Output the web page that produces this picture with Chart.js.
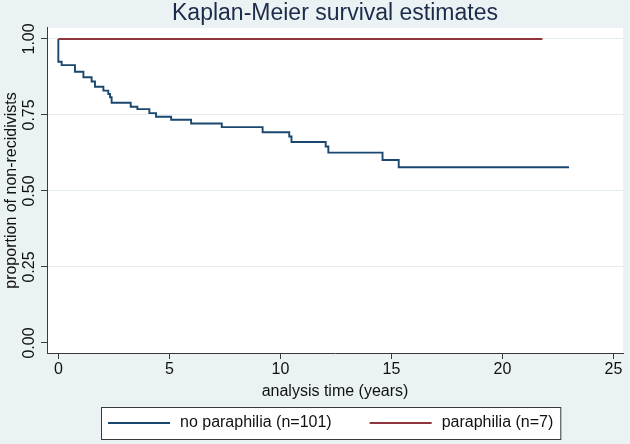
<!DOCTYPE html>
<html>
<head>
<meta charset="utf-8">
<script src="https://cdn.jsdelivr.net/npm/chart.js@4.4.1/dist/chart.umd.min.js"></script>
<style>
  html, body { margin: 0; padding: 0; background: #eaf2f3; }
  #wrap { width: 630px; height: 444px; }
</style>
</head>
<body>
<div id="wrap"><canvas id="km" width="630" height="444"></canvas></div>
<script>
/* Kaplan-Meier plot, values */

// no paraphilia (n=101): time of each step (years) and survival after it
const noParaTimes = [0, 0, 0.15, 0.75, 1.13, 1.5, 1.65, 2.03, 2.25, 2.33, 2.4, 3.26, 3.56, 4.1, 4.4,
                     5.08, 5.98, 7.36, 9.2, 10.4, 10.5, 12.04, 12.16, 14.6, 15.33, 23.0];
const noParaSurv  = [1, 0.925, 0.914, 0.892, 0.874, 0.86, 0.843, 0.83, 0.819, 0.808, 0.79, 0.777, 0.769, 0.756, 0.744,
                     0.734, 0.722, 0.71, 0.693, 0.679, 0.661, 0.646, 0.626, 0.602, 0.578, 0.578];

// paraphilia (n=7): no events
const paraTimes = [0, 21.8];
const paraSurv  = [1, 1];

const seriesLabels = ['no paraphilia (n=101)', 'paraphilia (n=7)'];
const xTickValues = [0, 5, 10, 15, 20, 25];
const yTickValues = [0, 0.25, 0.5, 0.75, 1];

const FONT = "'Liberation Sans', Arial, Helvetica, sans-serif";
const TEXT = '#111';
const AXIS = '#3a3a3a';

// Paints the grey outer region and the white plot region
const stataBackground = {
    id: 'stataBackground',
    beforeDraw(chart) {
        const { ctx, chartArea } = chart;
        ctx.save();
        ctx.fillStyle = '#eaf2f3';
        ctx.fillRect(0, 0, chart.width, chart.height);
        ctx.fillStyle = '#ffffff';
        ctx.fillRect(chartArea.left, chartArea.top, chartArea.right - chartArea.left, chartArea.bottom - chartArea.top);
        ctx.restore();
    }
};

// Boxed legend in one row below the axis title
const boxedLegend = {
    id: 'boxedLegend',
    afterDraw(chart, args, opts) {
        const ctx = chart.ctx;
        ctx.save();
        ctx.font = opts.font;
        const items = chart.data.datasets.map(ds => ({ text: ds.label, color: ds.borderColor }));
        let x = opts.left + opts.pad;
        const pos = [];
        items.forEach(it => {
            const w = ctx.measureText(it.text).width;
            pos.push({ x, w });
            x += opts.keyWidth + opts.gap + w + opts.itemGap;
        });
        const right = x - opts.itemGap + opts.pad;
        const cy = opts.top + opts.height / 2;

        ctx.fillStyle = '#ffffff';
        ctx.fillRect(opts.left, opts.top, right - opts.left, opts.height);
        ctx.strokeStyle = AXIS;
        ctx.lineWidth = 1;
        ctx.strokeRect(opts.left + 0.5, opts.top + 0.5, right - opts.left, opts.height);

        items.forEach((it, i) => {
            ctx.strokeStyle = it.color;
            ctx.lineWidth = 1.8;
            ctx.beginPath();
            ctx.moveTo(pos[i].x, cy);
            ctx.lineTo(pos[i].x + opts.keyWidth, cy);
            ctx.stroke();
            ctx.fillStyle = TEXT;
            ctx.textBaseline = 'middle';
            ctx.textAlign = 'left';
            ctx.fillText(it.text, pos[i].x + opts.keyWidth + opts.gap, cy);
        });
        ctx.restore();
    }
};

const ctx = document.getElementById('km');

new Chart(ctx, {
    type: 'line',
    data: {
        datasets: [
            {
                label: seriesLabels[0],
                data: noParaTimes.map((t, i) => ({ x: t, y: noParaSurv[i] })),
                borderColor: '#1a476f',
                backgroundColor: '#1a476f',
                borderWidth: 1.9,
                pointRadius: 0,
                stepped: 'before',
                fill: false,
                order: 2
            },
            {
                label: seriesLabels[1],
                data: paraTimes.map((t, i) => ({ x: t, y: paraSurv[i] })),
                borderColor: '#90353b',
                backgroundColor: '#90353b',
                borderWidth: 1.9,
                pointRadius: 0,
                stepped: 'before',
                fill: false,
                order: 1
            }
        ]
    },
    options: {
        responsive: false,
        animation: false,
        events: [],
        layout: { padding: { left: 0, right: 7, top: 0, bottom: 36 } },
        scales: {
            x: {
                type: 'linear',
                min: -0.51,
                max: 25.43,
                afterBuildTicks: scale => { scale.ticks = xTickValues.map(v => ({ value: v })); },
                afterFit: scale => { scale.height = 55; },
                grid: { drawOnChartArea: false, drawTicks: true, tickLength: 6, tickColor: AXIS },
                border: { display: true, color: AXIS, width: 1 },
                ticks: {
                    autoSkip: false,
                    maxRotation: 0,
                    padding: 1.4,
                    color: TEXT,
                    font: { family: FONT, size: 16 },
                    callback: v => String(v)
                },
                title: {
                    display: true,
                    text: 'analysis time (years)',
                    color: TEXT,
                    font: { family: FONT, size: 16 },
                    padding: { top: 0, bottom: 7 }
                }
            },
            y: {
                type: 'linear',
                min: -0.033,
                max: 1.036,
                afterBuildTicks: scale => { scale.ticks = yTickValues.map(v => ({ value: v })); },
                afterFit: scale => { scale.width = 47; },
                grid: {
                    drawTicks: true,
                    tickLength: 6,
                    tickColor: AXIS,
                    lineWidth: 1,
                    color: c => (c.tick && c.tick.value === 0) ? 'rgba(0,0,0,0)' : '#e4edef'
                },
                border: { display: true, color: AXIS, width: 1 },
                ticks: {
                    autoSkip: false,
                    minRotation: 90,
                    maxRotation: 90,
                    crossAlign: 'center',
                    padding: -4.6,
                    color: TEXT,
                    font: { family: FONT, size: 16 },
                    callback: v => Number(v).toFixed(2)
                },
                title: {
                    display: true,
                    text: 'proportion of non-recidivists',
                    color: TEXT,
                    font: { family: FONT, size: 16 },
                    padding: { top: 2, bottom: 0 }
                }
            }
        },
        plugins: {
            legend: { display: false },
            tooltip: { enabled: false },
            title: {
                display: true,
                fullSize: false,
                text: 'Kaplan-Meier survival estimates',
                color: '#1c2b4a',
                font: { family: FONT, size: 23, weight: 'normal' },
                padding: { top: 0, bottom: 0.4 }
            },
            boxedLegend: {
                font: '16px ' + FONT,
                left: 101,
                top: 407,
                height: 32,
                pad: 7,
                keyWidth: 62,
                gap: 10,
                itemGap: 38
            }
        }
    },
    plugins: [stataBackground, boxedLegend]
});
</script>
</body>
</html>
